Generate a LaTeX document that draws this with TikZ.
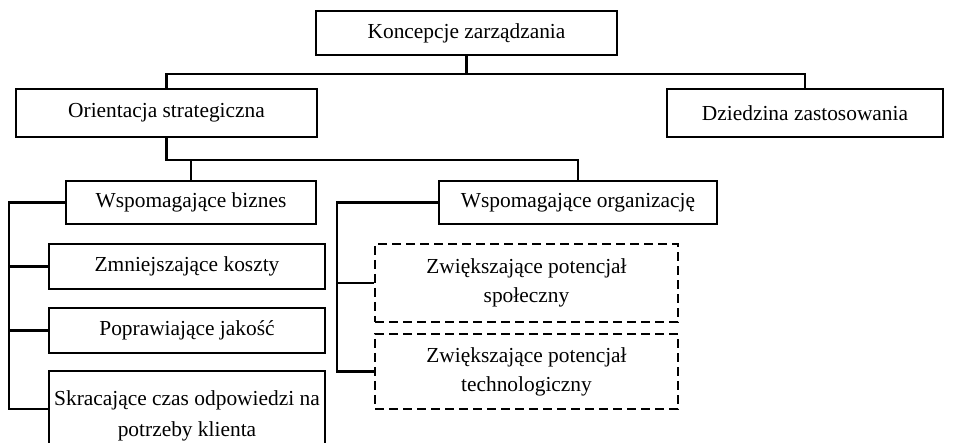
\documentclass[tikz,border=0pt]{standalone}
\usepackage{fontspec}
\setmainfont{Liberation Serif}

\begin{document}
\begin{tikzpicture}[x=0.5pt, y=-0.5pt,
    dashedbox/.style={dash pattern=on 4.5pt off 2.5pt, line width=1.4pt}]
\useasboundingbox (0,0) rectangle (960,443);

\begin{scope}[every node/.style={rectangle, draw, line width=1.1pt, inner sep=0pt, align=center,
                                 font=\fontsize{10.7}{15}\selectfont}]
    \node (koncepcje) at (466.5, 33) [minimum width=150.5pt, minimum height=22pt] {Koncepcje zarządzania};

    \node (orientacja) at (166.5, 113) [minimum width=150.5pt, minimum height=24pt] {Orientacja strategiczna};
    \node (dziedzina) at (805, 113) [minimum width=138pt, minimum height=24pt] {Dziedzina zastosowania};

    \node (biznes) at (191, 202.5) [minimum width=125pt, minimum height=21.5pt] {Wspomagające biznes};
    \node (organizacja) at (578, 202.5) [minimum width=139pt, minimum height=21.5pt] {Wspomagające organizację};

    \node (koszty) at (187, 266.5) [minimum width=138pt, minimum height=22.5pt] {Zmniejszające koszty};
    \node (jakosc) at (187, 330.5) [minimum width=138pt, minimum height=22.5pt] {Poprawiające jakość};
    \node (czas) at (187, 416) [minimum width=138pt, minimum height=45pt,
                               font=\fontsize{10.7}{15.5}\selectfont] {Skracające czas odpowiedzi na\\potrzeby klienta};

    \node (spoleczny) at (526.5, 283) [dashedbox, minimum width=151.5pt, minimum height=39pt,
                                      font=\fontsize{10.7}{14.5}\selectfont] {Zwiększające potencjał\\społeczny};
    \node (techno) at (526.5, 371.5) [dashedbox, minimum width=151.5pt, minimum height=37.5pt,
                                     font=\fontsize{10.7}{14.5}\selectfont] {Zwiększające potencjał\\technologiczny};
\end{scope}

\coordinate (lrail) at (9, 202.5);
\coordinate (rrail) at (337, 202.5);

\begin{scope}[line width=1.1pt]
    \draw (koncepcje.south) -- ++(0,18) -| (orientacja.north);
    \draw (koncepcje.south) -- ++(0,18) -| (dziedzina.north);
    \draw (orientacja.south) -- ++(0,22) -| (biznes.north);
    \draw (orientacja.south) -- ++(0,22) -| (organizacja.north);

    \draw (biznes.west) -- (lrail) |- (koszty.west);
    \draw (lrail) |- (jakosc.west);
    \draw (lrail) |- ([yshift=3.5pt]czas.west);

    \draw (organizacja.west) -- (rrail) |- (spoleczny.west);
    \draw (rrail) |- (techno.west);
\end{scope}
\end{tikzpicture}
\end{document}
